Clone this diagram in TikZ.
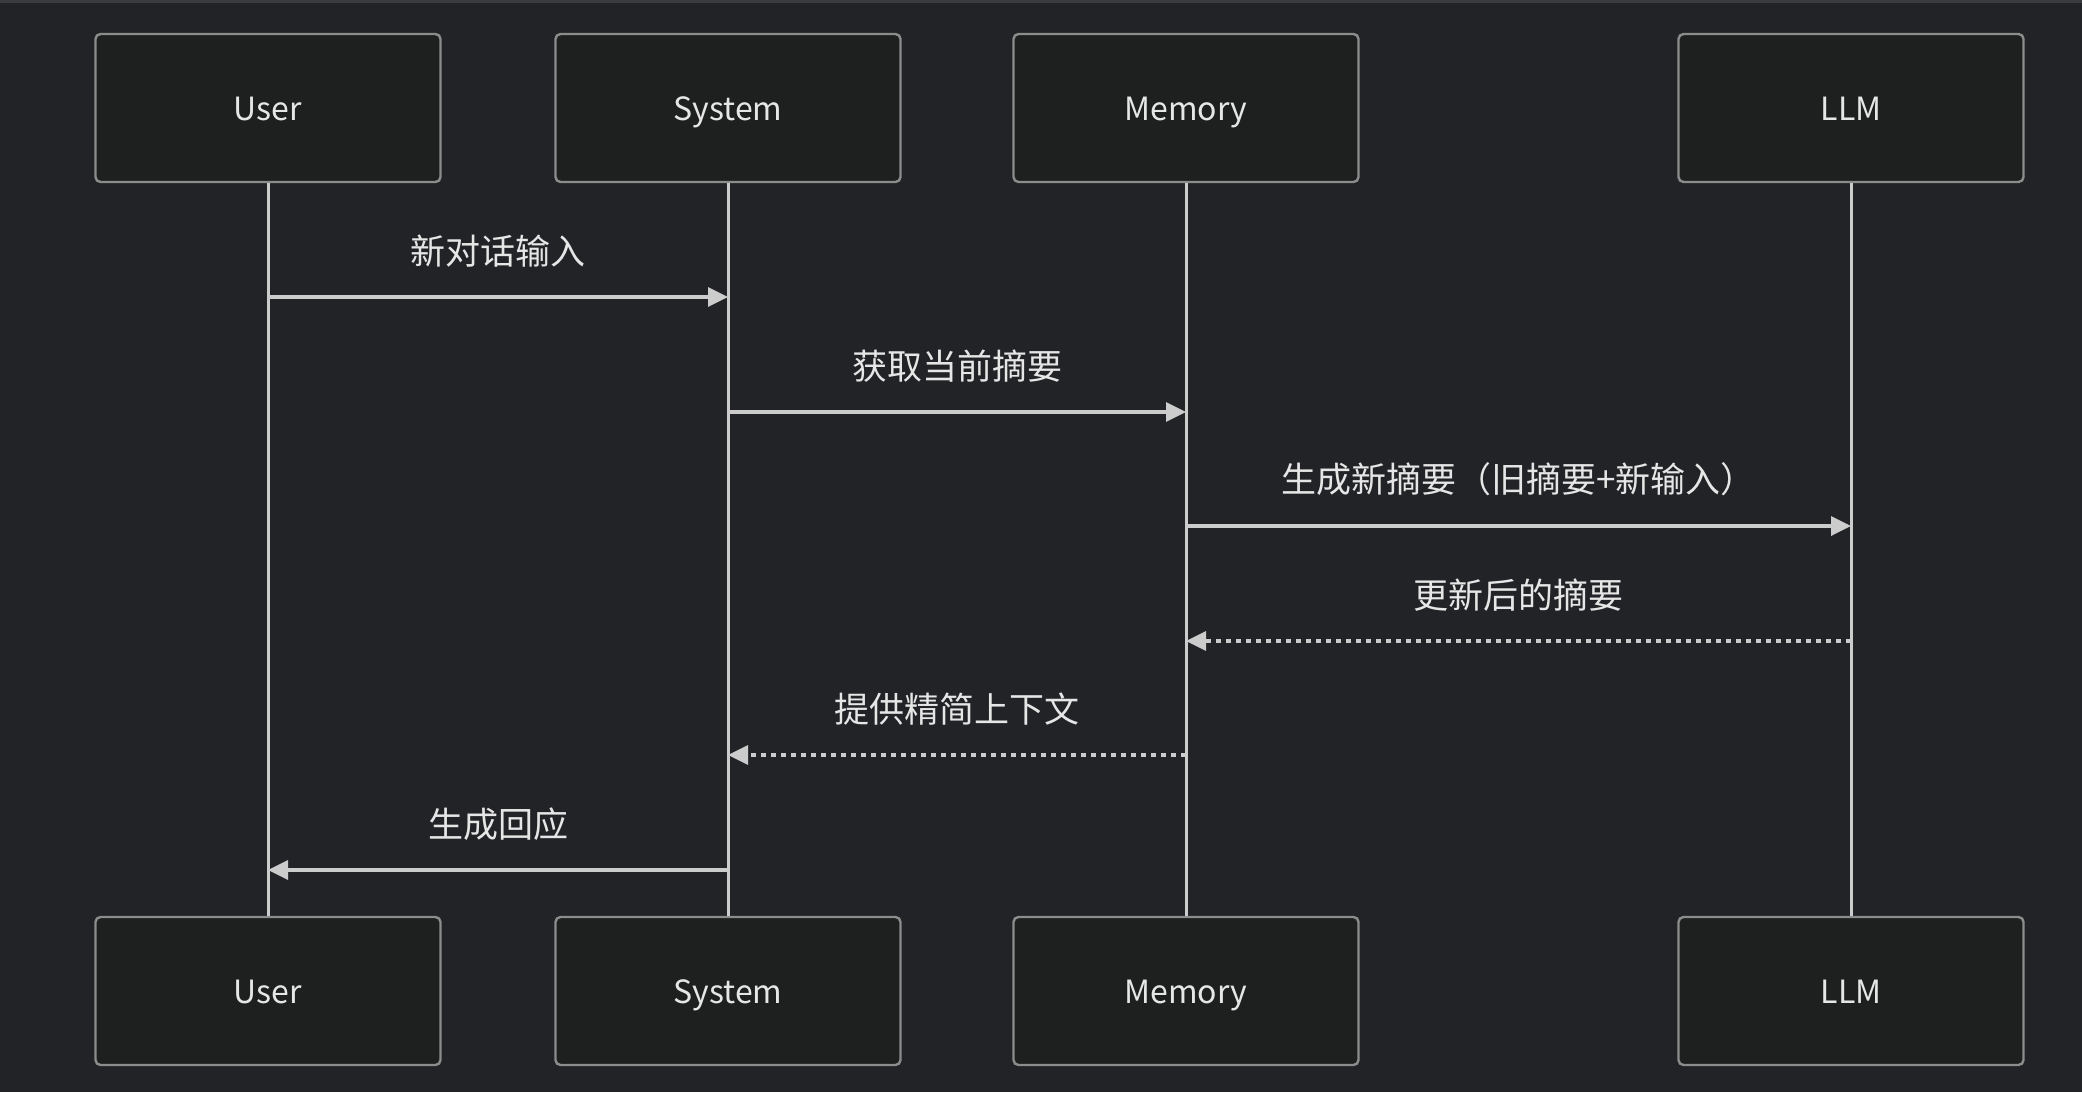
\documentclass[tikz,border=0pt]{standalone}
\usepackage{fontspec}
\setmainfont{Noto Sans CJK SC}
\usetikzlibrary{arrows.meta}
\definecolor{bgc}{HTML}{222326}
\definecolor{boxfill}{HTML}{1E1F1F}
\definecolor{boxline}{HTML}{8C8C8C}
\definecolor{linec}{HTML}{CCCCCC}
\definecolor{txtc}{HTML}{E6E6E6}
\begin{document}
\begin{tikzpicture}[x=1pt,y=-1pt,
  actor/.style={draw=boxline,fill=boxfill,line width=2.4pt,rounded corners=5pt,
    minimum width=345pt,minimum height=148pt,inner sep=0pt,text=txtc,
    text height=27pt,text depth=3pt,
    font=\fontsize{32}{36}\selectfont},
  life/.style={draw=linec,line width=3pt},
  msg/.style={draw=linec,line width=3.4pt,-{Triangle[length=20pt,width=19pt]}},
  reply/.style={msg,dash pattern=on 5pt off 5pt},
  lbl/.style={text=txtc,font=\fontsize{35}{38}\selectfont,inner sep=0pt}]
\fill[bgc] (0,0) rectangle (2082,1092);
\fill[black!25!bgc!85!white] (0,0) rectangle (2082,3);
% top actors
\node[actor] (u1) at (268,108) {User};
\node[actor] (s1) at (728,108) {System};
\node[actor] (m1) at (1186,108) {Memory};
\node[actor] (l1) at (1851,108) {LLM};
% bottom actors
\node[actor] (u2) at (268,991) {User};
\node[actor] (s2) at (728,991) {System};
\node[actor] (m2) at (1186,991) {Memory};
\node[actor] (l2) at (1851,991) {LLM};
% lifelines
\draw[life] (u1.south) -- (u2.north);
\draw[life] (s1.south) -- (s2.north);
\draw[life] (m1.south) -- (m2.north);
\draw[life] (l1.south) -- (l2.north);
% message anchor coordinates
\coordinate (a1) at (u1.south |- 0,297);
\coordinate (b1) at (s1.south |- 0,297);
\coordinate (a2) at (s1.south |- 0,412);
\coordinate (b2) at (m1.south |- 0,412);
\coordinate (a3) at (m1.south |- 0,526);
\coordinate (b3) at (l1.south |- 0,526);
\coordinate (a4) at (l1.south |- 0,641);
\coordinate (b4) at (m1.south |- 0,641);
\coordinate (a5) at (m1.south |- 0,755);
\coordinate (b5) at (s1.south |- 0,755);
\coordinate (a6) at (s1.south |- 0,870);
\coordinate (b6) at (u1.south |- 0,870);
% messages
\draw[msg] (a1) -- (b1) node[lbl,midway,above=28pt] (t1) {新对话输入};
\draw[msg] (a2) -- (b2) node[lbl,midway,above=28pt] (t2) {获取当前摘要};
\draw[msg] (a3) -- (b3) node[lbl,midway,above=28pt] (t3) {生成新摘要（旧摘要+新输入）};
\draw[reply] (a4) -- (b4) node[lbl,midway,above=28pt] (t4) {更新后的摘要};
\draw[reply] (a5) -- (b5) node[lbl,midway,above=28pt] (t5) {提供精简上下文};
\draw[msg] (a6) -- (b6) node[lbl,midway,above=28pt] (t6) {生成回应};
\end{tikzpicture}
\end{document}
